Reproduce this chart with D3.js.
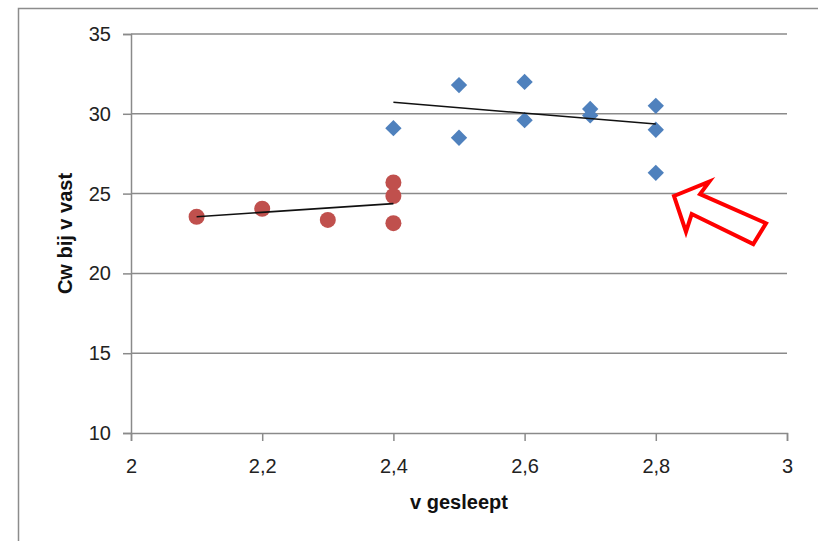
<!DOCTYPE html>
<html>
<head>
<meta charset="utf-8">
<script src="https://cdn.jsdelivr.net/npm/d3@7/dist/d3.min.js"></script>
<style>
  html, body { margin: 0; padding: 0; background: #fff; }
  svg { display: block; }
</style>
</head>
<body>
<svg id="chart" width="818" height="541"></svg>
<script>
// ---- data ----
const xTicks = [2, 2.2, 2.4, 2.6, 2.8, 3];
const yTicks = [10, 15, 20, 25, 30, 35];

const blueX = [2.4, 2.5, 2.5, 2.6, 2.6, 2.7, 2.7, 2.8, 2.8, 2.8];
const blueY = [29.1, 31.8, 28.5, 32.0, 29.6, 30.3, 29.9, 30.5, 29.0, 26.3];

const redX = [2.1, 2.2, 2.3, 2.4, 2.4, 2.4];
const redY = [23.55, 24.05, 23.35, 25.7, 24.85, 23.15];

const blueTrendX = [2.4, 2.8];
const blueTrendY = [30.72, 29.36];
const redTrendX = [2.1, 2.4];
const redTrendY = [23.55, 24.37];

// annotation arrow outline (data coordinates)
const arrowX = [2.8277, 2.8816, 2.8674, 2.968, 2.9486, 2.8547, 2.8460];
const arrowY = [24.85, 25.75, 24.97, 23.14, 21.84, 23.72, 22.61];

const xTitle = "v gesleept";
const yTitle = "Cw bij v vast";

// ---- drawing ----
(function () {
const svg = d3.select("#chart");
const W = 818, H = 541;
const mLeft = 131, mRight = 787, mTop = 34, mBottom = 433;

const x = d3.scaleLinear().domain([2, 3]).range([mLeft, mRight]);
const y = d3.scaleLinear().domain([10, 35]).range([mBottom, mTop]);
const fmt = d => String(d).replace(".", ",");

const gridColor = "#8a8a8a";
const font = "'Liberation Sans', Arial, sans-serif";

// outer border
svg.append("rect")
  .attr("x", 18.5).attr("y", 8.5)
  .attr("width", W + 20).attr("height", H + 20)
  .attr("fill", "#fff")
  .attr("stroke", "#8c8c8c").attr("stroke-width", 1.5);

// horizontal gridlines
svg.append("g").selectAll("line")
  .data(yTicks.filter(d => d !== 10))
  .join("line")
  .attr("x1", mLeft).attr("x2", mRight)
  .attr("y1", d => y(d)).attr("y2", d => y(d))
  .attr("stroke", gridColor).attr("stroke-width", 1.5);

// y axis
const gy = svg.append("g")
  .attr("transform", `translate(${mLeft},0)`)
  .call(d3.axisLeft(y).tickValues(yTicks).tickFormat(fmt).tickSize(8).tickPadding(12));
// x axis
const gx = svg.append("g")
  .attr("transform", `translate(0,${mBottom})`)
  .call(d3.axisBottom(x).tickValues(xTicks).tickFormat(fmt).tickSize(8).tickPadding(18));

[gx, gy].forEach(g => {
  g.select(".domain").attr("stroke", gridColor).attr("stroke-width", 1.5);
  g.selectAll(".tick line").attr("stroke", gridColor).attr("stroke-width", 1.5);
  g.selectAll(".tick text")
    .attr("fill", "#222")
    .style("font-family", font)
    .style("font-size", "20px");
});

const line = d3.line().x(d => x(d[0])).y(d => y(d[1]));

// red circles
svg.append("g").selectAll("circle")
  .data(redX.map((v, i) => [v, redY[i]]))
  .join("circle")
  .attr("cx", d => x(d[0])).attr("cy", d => y(d[1]))
  .attr("r", 8)
  .attr("fill", "#C0504D");

svg.append("path")
  .datum(redTrendX.map((v, i) => [v, redTrendY[i]]))
  .attr("d", line).attr("fill", "none")
  .attr("stroke", "#111").attr("stroke-width", 1.6);

// blue diamonds
const diamond = d3.symbol().type(d3.symbolDiamond2).size(170);
svg.append("g").selectAll("path")
  .data(blueX.map((v, i) => [v, blueY[i]]))
  .join("path")
  .attr("d", diamond)
  .attr("transform", d => `translate(${x(d[0])},${y(d[1])})`)
  .attr("fill", "#4F81BD");

svg.append("path")
  .datum(blueTrendX.map((v, i) => [v, blueTrendY[i]]))
  .attr("d", line).attr("fill", "none")
  .attr("stroke", "#111").attr("stroke-width", 1.6);

// axis titles
svg.append("text")
  .attr("x", (mLeft + mRight) / 2).attr("y", 509)
  .attr("text-anchor", "middle")
  .style("font-family", font).style("font-weight", "bold").style("font-size", "20px")
  .attr("fill", "#111")
  .text(xTitle);

svg.append("text")
  .attr("transform", `translate(72,${(mTop + mBottom) / 2}) rotate(-90)`)
  .attr("text-anchor", "middle")
  .style("font-family", font).style("font-weight", "bold").style("font-size", "20px")
  .attr("fill", "#111")
  .text(yTitle);

// annotation arrow
svg.append("polygon")
  .attr("points", arrowX.map((v, i) => `${x(v)},${y(arrowY[i])}`).join(" "))
  .attr("fill", "#fff")
  .attr("stroke", "#FF0000").attr("stroke-width", 4)
  .attr("stroke-linejoin", "miter");
})();
</script>
</body>
</html>
